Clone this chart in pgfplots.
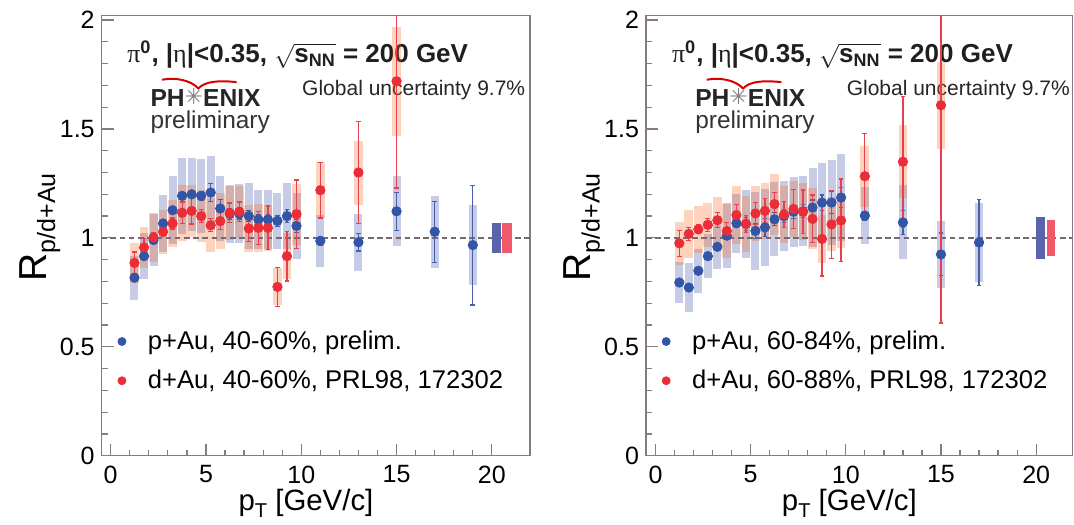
\documentclass[border=0pt]{standalone}
\usepackage{fontspec}
\setmainfont{Liberation Sans}
\newfontfamily\dejavu{DejaVu Sans}
\newfontfamily\greekfont{Liberation Serif}
\usepackage{pgfplots}
\usepackage{pgfplotstable}
\pgfplotsset{compat=1.18}

\definecolor{blueM}{HTML}{3355A5}
\definecolor{redM}{HTML}{EB2D37}
\definecolor{errBlue}{HTML}{4460AA}
\definecolor{errRed}{HTML}{E8404E}
\definecolor{blueSysC}{RGB}{65,85,172}
\definecolor{orangeSysC}{RGB}{248,108,38}
\definecolor{blueGlob}{HTML}{5A64AC}
\definecolor{redGlob}{HTML}{F0596B}
\definecolor{dashGray}{HTML}{786870}
\definecolor{frameGray}{HTML}{857A85}

% p+Au 40-60%
\pgfplotstableread{
x y stat sys
1.25 0.817 0.010 0.100
1.75 0.916 0.010 0.105
2.25 0.990 0.010 0.120
2.75 1.066 0.010 0.130
3.25 1.127 0.012 0.155
3.75 1.193 0.012 0.175
4.25 1.200 0.015 0.167
4.75 1.193 0.020 0.170
5.25 1.208 0.040 0.170
5.75 1.135 0.040 0.150
6.25 1.110 0.025 0.133
6.75 1.112 0.025 0.135
7.25 1.100 0.025 0.150
7.75 1.084 0.025 0.134
8.25 1.084 0.025 0.134
8.75 1.078 0.025 0.128
9.25 1.100 0.030 0.150
9.75 1.055 0.030 0.150
11 0.986 0.020 0.120
13 0.980 0.040 0.130
15 1.122 0.088 0.160
17 1.028 0.140 0.165
19 0.967 0.275 0.185
}\pAuL

% d+Au 40-60%
\pgfplotstableread{
x y stat sys
1.25 0.885 0.050 0.090
1.75 0.956 0.040 0.094
2.25 1.002 0.020 0.113
2.75 1.028 0.020 0.100
3.25 1.066 0.025 0.110
3.75 1.115 0.050 0.130
4.25 1.124 0.060 0.120
4.75 1.100 0.030 0.120
5.25 1.058 0.030 0.124
5.75 1.077 0.040 0.130
6.25 1.115 0.045 0.125
6.75 1.120 0.045 0.120
7.25 1.043 0.060 0.107
7.75 1.046 0.075 0.110
8.25 1.046 0.100 0.107
8.75 0.775 0.090 0.085
9.25 0.916 0.114 0.107
9.75 1.109 0.157 0.140
11 1.219 0.128 0.130
13 1.300 0.235 0.147
15 1.719 0.490 0.250
}\dAuL

% p+Au 60-84%
\pgfplotstableread{
x y stat sys
1.25 0.795 0.015 0.096
1.75 0.772 0.015 0.113
2.25 0.849 0.015 0.100
2.75 0.916 0.015 0.100
3.25 0.959 0.015 0.100
3.75 1.010 0.015 0.150
4.25 1.067 0.020 0.135
4.75 1.064 0.030 0.155
5.25 1.032 0.035 0.180
5.75 1.048 0.040 0.177
6.25 1.085 0.030 0.170
6.75 1.100 0.030 0.160
7.25 1.120 0.030 0.160
7.75 1.122 0.030 0.160
8.25 1.139 0.035 0.180
8.75 1.162 0.035 0.180
9.25 1.162 0.050 0.197
9.75 1.185 0.045 0.200
11 1.102 0.020 0.130
13 1.071 0.054 0.170
15 0.924 0.098 0.153
17 0.979 0.198 0.180
}\pAuR

% d+Au 60-88%
\pgfplotstableread{
x y stat sys
1.25 0.975 0.060 0.100
1.75 1.018 0.030 0.110
2.25 1.039 0.020 0.107
2.75 1.060 0.030 0.100
3.25 1.081 0.035 0.105
3.75 1.031 0.040 0.125
4.25 1.105 0.050 0.133
4.75 1.064 0.040 0.130
5.25 1.112 0.050 0.125
5.75 1.124 0.055 0.130
6.25 1.155 0.055 0.140
6.75 1.107 0.060 0.130
7.25 1.133 0.090 0.130
7.75 1.120 0.100 0.130
8.25 1.087 0.110 0.140
8.75 0.995 0.170 0.110
9.25 1.062 0.157 0.124
9.75 1.080 0.190 0.125
11 1.283 0.197 0.140
13 1.349 0.300 0.167
15 1.609 1.000 0.200
}\dAuR

\pgfplotsset{
  panel/.style={
    scale only axis, height=220pt,
    ymin=0, ymax=2.02,
    xtick={0,5,10,15,20}, ytick={0,0.5,1,1.5,2},
    minor x tick num=4, minor y tick num=4,
    tick pos=left, tick align=inside,
    major tick length=6pt, minor tick length=3pt,
    axis line style={frameGray, line width=0.6pt},
    every tick/.style={frameGray, line width=0.6pt},
    ticklabel style={font=\fontsize{12.5}{14}\selectfont},
    xticklabel style={yshift=-1.5pt},
    /pgf/number format/assume math mode=true,
    every axis x label/.style={at={(axis description cs:0.477,0)}, anchor=base, yshift=-27.5pt,
      font=\fontsize{14.7}{16}\selectfont},
    every axis y label/.style={at={(axis description cs:-0.130,0.519)}, anchor=base, rotate=90,
      font=\fontsize{19.5}{20}\selectfont},
    xlabel={p\raisebox{-3.5pt}{\fontsize{10}{10}\selectfont T} [GeV/c]},
    ylabel={R\raisebox{-4.5pt}{\fontsize{12.5}{12.5}\selectfont p/d+Au}},
    legend style={draw=none, fill=none, inner sep=0pt, outer sep=0pt,
      at={(axis description cs:0.037,0.284)}, anchor=north west,
      nodes={inner sep=0pt, anchor=west}, row sep=8.85pt,
      font=\fontsize{12.8}{14}\selectfont},
    legend cell align=left,
    legend image code/.code={\fill[##1] (0pt,0pt) circle (2pt); \path[draw=none, fill=none] (-2pt,0pt) -- (13pt,0pt);},
  },
  nomark/.style={only marks, mark=*, mark options={draw opacity=0, fill opacity=0}},
  sysblue/.style={forget plot, nomark,
    error bars/.cd, y dir=both, y explicit, error mark=none,
    error bar style={line width=4pt, color=blueSysC, draw opacity=0.3}},
  sysred/.style={forget plot, nomark,
    error bars/.cd, y dir=both, y explicit, error mark=none,
    error bar style={line width=4.4pt, color=orangeSysC, draw opacity=0.3}},
  ptblue/.style={forget plot, only marks, mark=*, mark size=2.35pt, color=blueM,
    error bars/.cd, y dir=both, y explicit, error mark=-,
    error bar style={line width=0.6pt, color=errBlue},
    error mark options={rotate=90, mark size=1.2pt, line width=0.6pt, color=errBlue}},
  ptred/.style={forget plot, only marks, mark=*, mark size=2.35pt, color=redM,
    error bars/.cd, y dir=both, y explicit, error mark=-,
    error bar style={line width=0.6pt, color=errRed},
    error mark options={rotate=90, mark size=1.2pt, line width=0.6pt, color=errRed}},
  glob/.style 2 args={forget plot, nomark,
    error bars/.cd, y dir=both, y explicit, error mark=none,
    error bar style={line width=#1, color=#2}},
}

\newcommand{\paneltext}{%
  \node[anchor=base west, inner sep=0pt, font=\fontsize{13}{15}\selectfont\bfseries, text=black!88] at (axis cs:0.85,1.806)
    {{\greekfont\mdseries π}\textsuperscript{0}, |{\greekfont\mdseries η}|<0.35, $\sqrt{\mbox{s}_{\mbox{\fontsize{9}{9}\selectfont\bfseries NN}}}$ = 200 GeV};
  \node[anchor=base west, inner sep=0pt, font=\fontsize{10.5}{12}\selectfont, text=black!85] at (axis cs:10.03,1.655)
    {Global uncertainty 9.7\%};
  \node[anchor=base west, inner sep=0pt, font=\fontsize{12.3}{12}\selectfont\bfseries, text=black!85] at (axis cs:2.07,1.602)
    {PH\smash{\raisebox{1.2pt}{\dejavu\mdseries\fontsize{11}{11}\selectfont\textcolor{gray}{✳}}}ENIX};
  \node[anchor=base west, inner sep=0pt, font=\fontsize{12.2}{13}\selectfont, text=black!80] at (axis cs:2.07,1.503)
    {preliminary};
  \draw[red!85!black, line width=1pt] (axis cs:2.69,1.726) .. controls (axis cs:3.4,1.738) and (axis cs:4.2,1.724) .. (axis cs:4.6,1.686)
     .. controls (axis cs:4.95,1.718) and (axis cs:5.6,1.724) .. (axis cs:6.61,1.715);
}

\begin{document}
\begin{tikzpicture}
\path[use as bounding box] (0pt,0pt) rectangle (537pt,262pt);

\begin{axis}[panel, at={(50.85pt,34.15pt)}, anchor=south west, width=214.15pt, xmin=-0.47, xmax=22]
  \paneltext
  \addplot[sysblue] table[x=x, y=y, y error=sys] {\pAuL};
  \addplot[sysred] table[x=x, y=y, y error=sys] {\dAuL};
  \addplot[forget plot, dashGray, line width=0.75pt, dash pattern=on 2.8pt off 1.8pt] coordinates {(-0.5,1) (22,1)};
  \addplot[glob={4.3pt}{blueGlob}] coordinates {(20.245,1) +- (0,0.07)};
  \addplot[glob={4.7pt}{redGlob}] coordinates {(20.8,1) +- (0,0.07)};
  \addplot[ptblue] table[x=x, y=y, y error=stat] {\pAuL};
  \addplot[ptred] table[x=x, y=y, y error=stat] {\dAuL};
  \addlegendimage{blueM}
  \addlegendentry{p+Au, 40-60\%, prelim.}
  \addlegendimage{redM}
  \addlegendentry{d+Au, 40-60\%, PRL98, 172302}
\end{axis}

\begin{axis}[panel, at={(323pt,34.15pt)}, anchor=south west, width=213.15pt, xmin=-0.5, xmax=21.9]
  \paneltext
  \addplot[sysblue] table[x=x, y=y, y error=sys] {\pAuR};
  \addplot[sysred] table[x=x, y=y, y error=sys] {\dAuR};
  \addplot[forget plot, dashGray, line width=0.75pt, dash pattern=on 2.8pt off 1.8pt] coordinates {(-0.5,1) (22,1)};
  \addplot[glob={4.3pt}{blueGlob}] coordinates {(20.23,1) +- (0,0.098)};
  \addplot[glob={4.3pt}{redGlob}] coordinates {(20.78,1) +- (0,0.084)};
  \addplot[ptblue] table[x=x, y=y, y error=stat] {\pAuR};
  \addplot[ptred] table[x=x, y=y, y error=stat] {\dAuR};
  \addlegendimage{blueM}
  \addlegendentry{p+Au, 60-84\%, prelim.}
  \addlegendimage{redM}
  \addlegendentry{d+Au, 60-88\%, PRL98, 172302}
\end{axis}
\end{tikzpicture}
\end{document}
